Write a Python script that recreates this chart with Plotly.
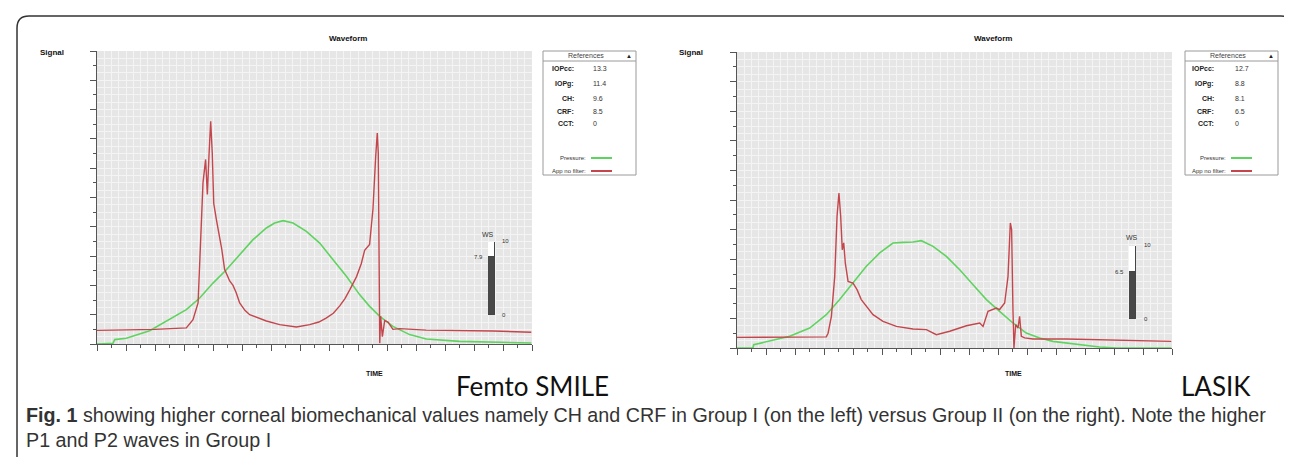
import plotly.graph_objects as go

W, H = 1292, 457
def px(x): return x / W
def py(y): return 1 - y / H

# ---------------- data ----------------
# Femto SMILE (left) waveform
smile_red_t = [0, 2, 4, 6.16, 6.62, 6.97, 7.13, 7.31, 7.49, 7.61, 7.72, 7.84, 7.95, 8.05, 8.23, 8.46, 8.6, 8.8,
               9.15, 9.38, 9.6, 9.84, 10.2, 10.53, 11.1, 11.68, 12.6, 13.2, 13.75, 14.67, 15.3, 15.8, 16.3, 16.74,
               17.1, 17.43, 17.9, 18.23, 18.46, 18.8, 19.03, 19.22, 19.33, 19.4, 19.45, 19.5, 19.56, 19.68,
               19.84, 20.07, 20.41, 20.87, 22.71, 25.0, 27.3, 29.95]
smile_red_v = [0.93, 0.95, 1.0, 1.1, 1.66, 2.8, 6.9, 11.0, 12.6, 10.2, 12.8, 15.2, 13.0, 9.6, 8.5, 7.4, 6.5, 5.1,
               4.3, 4.0, 3.5, 2.8, 2.3, 2.0, 1.8, 1.57, 1.32, 1.22, 1.16, 1.32, 1.5, 1.77, 2.1, 2.6,
               3.1, 3.7, 4.6, 5.5, 6.4, 6.8, 9.2, 12.8, 14.4, 13.0, 6.9, 0.05, 1.9, 0.5,
               1.6, 1.5, 1.0, 1.05, 0.95, 0.92, 0.89, 0.8]
smile_green_t = [0, 1.1, 1.22, 2.02, 3.63, 5.01, 6.16, 7.08, 8.0, 8.92, 9.84, 10.76, 11.68, 12.25, 12.83, 13.52,
                 14.44, 15.36, 16.28, 17.2, 18.11, 18.8, 19.5, 20.41, 21.56, 22.71, 25.0, 27.3, 29.95]
smile_green_v = [0, 0.05, 0.3, 0.39, 0.91, 1.66, 2.34, 3.14, 4.16, 5.07, 6.1, 7.12, 7.92, 8.26, 8.42, 8.26,
                 7.69, 6.89, 5.75, 4.62, 3.37, 2.57, 1.89, 1.2, 0.64, 0.34, 0.18, 0.11, 0.07]

# LASIK (right) waveform
lasik_red_t = [0, 3, 6.16, 6.28, 6.51, 6.74, 6.9, 7.03, 7.15, 7.26, 7.36, 7.47, 7.66, 8.0, 8.28, 8.57, 8.92, 9.38,
               10.07, 10.99, 12.14, 13.06, 13.75, 14.67, 15.82, 16.74, 16.97, 17.31, 17.89, 18.11, 18.46, 18.69,
               18.85, 18.94, 19.03, 19.1, 19.22, 19.38, 19.49, 19.61, 19.84, 20.41, 22.71, 27.3, 29.95]
lasik_red_v = [0.72, 0.74, 0.75, 1.0, 2.14, 4.84, 8.9, 10.47, 8.9, 6.64, 7.1, 5.74, 4.5, 4.39, 3.94, 3.27, 2.82, 2.25,
               1.8, 1.46, 1.28, 1.24, 0.9, 1.13, 1.5, 1.69, 1.46, 2.48, 2.7, 2.6, 3.04, 4.84,
               8.45, 8.0, 2.6, 0.0, 1.58, 1.35, 2.14, 0.79, 0.68, 0.61, 0.61, 0.5, 0.45]
lasik_green_t = [0, 1.1, 1.15, 2.02, 3.63, 5.01, 6.16, 7.08, 8.0, 8.92, 9.84, 10.76, 11.45, 12.14, 12.71, 13.52,
                 14.44, 15.36, 16.28, 17.2, 18.11, 19.03, 19.95, 20.87, 21.79, 22.71, 24.09, 25.0, 26.16, 29.95]
lasik_green_v = [0, 0, 0.22, 0.41, 0.79, 1.35, 2.25, 3.27, 4.39, 5.52, 6.42, 7.09, 7.14, 7.16, 7.25, 6.87,
                 6.19, 5.29, 4.28, 3.27, 2.48, 1.69, 1.01, 0.68, 0.45, 0.34, 0.16, 0.07, 0, 0]

ref_labels = ["IOPcc:", "IOPg:", "CH:", "CRF:", "CCT:"]
smile_refs = ["13.3", "11.4", "9.6", "8.5", "0"]
lasik_refs = ["12.7", "8.8", "8.1", "6.5", "0"]
ws_smile = 7.9
ws_lasik = 6.5
ws_max = 10

RED = "#c4464c"
GREEN = "#5fd35f"
TICK = "#555555"

fig = go.Figure()

# main traces
fig.add_trace(go.Scatter(x=smile_green_t, y=smile_green_v, mode="lines", line=dict(color=GREEN, width=1.6),
                         xaxis="x", yaxis="y", hoverinfo="skip"))
fig.add_trace(go.Scatter(x=smile_red_t, y=smile_red_v, mode="lines", line=dict(color=RED, width=1.4),
                         xaxis="x", yaxis="y", hoverinfo="skip"))
fig.add_trace(go.Scatter(x=lasik_green_t, y=lasik_green_v, mode="lines", line=dict(color=GREEN, width=1.6),
                         xaxis="x2", yaxis="y2", hoverinfo="skip"))
fig.add_trace(go.Scatter(x=lasik_red_t, y=lasik_red_v, mode="lines", line=dict(color=RED, width=1.4),
                         xaxis="x2", yaxis="y2", hoverinfo="skip"))
# dummy traces for tick overlays
for xa, ya in (("x5", "y5"), ("x6", "y6")):
    fig.add_trace(go.Scatter(x=[0], y=[0], mode="markers", marker=dict(opacity=0), xaxis=xa, yaxis=ya,
                             hoverinfo="skip"))

# WS gauges
for xa, ya, val in (("x3", "y3", ws_smile), ("x4", "y4", ws_lasik)):
    fig.add_trace(go.Bar(x=[0], y=[ws_max], width=1, marker=dict(color="white", line=dict(color="#444", width=1)),
                         xaxis=xa, yaxis=ya, hoverinfo="skip"))
    fig.add_trace(go.Bar(x=[0], y=[val], width=1, marker=dict(color="#484848", line=dict(color="#444", width=1)),
                         xaxis=xa, yaxis=ya, hoverinfo="skip"))

L_X = [px(89), px(524)]
L_Y = [py(336), py(43)]
R_X = [px(729), px(1164)]
R_Y = [py(340), py(44)]

def grid_axis(domain, anchor, rng):
    return dict(domain=domain, anchor=anchor, range=rng, dtick=0.5, tick0=0, showgrid=True,
                gridcolor="#f4f4f4", gridwidth=1, showticklabels=False, ticks="", zeroline=False,
                showline=False, fixedrange=True)

def tick_axis(overlay, anchor, rng, side):
    return dict(overlaying=overlay, anchor=anchor, range=rng, dtick=2, tick0=0, ticks="outside", ticklen=6,
                tickcolor=TICK, tickwidth=1, showgrid=False, showticklabels=False, zeroline=False,
                showline=True, linecolor=TICK, linewidth=1, side=side, fixedrange=True,
                minor=dict(dtick=1, tick0=0, ticks="outside", ticklen=3, tickcolor=TICK, tickwidth=1,
                           showgrid=False))

gauge_ax = dict(visible=False, fixedrange=True)

fig.update_layout(
    width=W, height=H, margin=dict(l=0, r=0, t=0, b=0),
    paper_bgcolor="white", plot_bgcolor="#e6e6e6", showlegend=False,
    barmode="overlay", bargap=0,
    xaxis=grid_axis(L_X, "y", [0, 30]),
    yaxis=grid_axis(L_Y, "x", [0, 20]),
    xaxis2=grid_axis(R_X, "y2", [0, 30]),
    yaxis2=grid_axis(R_Y, "x2", [0, 20]),
    xaxis5=tick_axis("x", "y5", [0, 30], "bottom"),
    yaxis5=tick_axis("y", "x5", [0, 20], "left"),
    xaxis6=tick_axis("x2", "y6", [0, 30], "bottom"),
    yaxis6=tick_axis("y2", "x6", [0, 20], "left"),
    xaxis3=dict(gauge_ax, domain=[px(480), px(487)], anchor="y3", range=[-0.5, 0.5]),
    yaxis3=dict(gauge_ax, domain=[py(307), py(234)], anchor="x3", range=[0, ws_max]),
    xaxis4=dict(gauge_ax, domain=[px(1121), px(1128)], anchor="y4", range=[-0.5, 0.5]),
    yaxis4=dict(gauge_ax, domain=[py(311), py(238)], anchor="x4", range=[0, ws_max]),
)

ann = []
def text(x, y, s, size=9, bold=False, color="#111", xanchor="center", font="Liberation Sans", yref="paper"):
    ann.append(dict(x=px(x), y=(py(y) if yref == "paper" else y), xref="paper", yref=yref,
                    text=(f"<b>{s}</b>" if bold else s), showarrow=False, xanchor=xanchor, yanchor="middle",
                    font=dict(family=font, size=size, color=color)))

shapes = []
def line(x0, y0, x1, y1, color, width=1):
    shapes.append(dict(type="line", xref="paper", yref="paper", x0=px(x0), y0=py(y0), x1=px(x1), y1=py(y1),
                       line=dict(color=color, width=width)))

def rect(x0, y0, x1, y1, color="#9a9a9a", fill="white"):
    shapes.append(dict(type="rect", xref="paper", yref="paper", x0=px(x0), y0=py(y0), x1=px(x1), y1=py(y1),
                       line=dict(color=color, width=1), fillcolor=fill, layer="below"))

# titles
for cx, sx, tx in ((340, 44, 366), (985, 683, 1005)):
    text(cx, 30, "Waveform", size=8, bold=True)
    text(sx, 45, "Signal", size=8, bold=True)
    text(tx, 365, "TIME", size=7, bold=True)

text(524, 378, "Femto SMILE", size=26, font="Lato", color="#111")
text(1208, 378, "LASIK", size=26, font="Lato", color="#111")

# reference boxes
for bx0, bx1, lab_x, val_x, refs in ((535, 628, 568, 583, smile_refs), (1177, 1270, 1208, 1225, lasik_refs)):
    rect(bx0, 43, bx1, 167)
    line(bx0, 53, bx1, 53, "#9a9a9a")
    text((bx0 + bx1) / 2 - 4, 48, "References", size=7, color="#444")
    text(bx1 - 7, 48, "▲", size=6, color="#222")
    rows_y = [60, 76, 90, 103, 116]
    for lab, val, yy in zip(ref_labels, refs, rows_y):
        text(lab_x, yy, lab, size=7, bold=True, color="#222", xanchor="right")
        text(val_x, yy, val, size=7, color="#333", xanchor="left")
    text(lab_x + 12, 150, "Pressure:", size=6, color="#333", xanchor="right")
    line(lab_x + 15, 150, lab_x + 36, 150, GREEN, 2)
    text(lab_x + 12, 163, "App no filter:", size=6, color="#333", xanchor="right")
    line(lab_x + 15, 163, lab_x + 36, 163, RED, 2)

# gauge labels
for (wsx, wsy, tx, tyt, vx, yax, val) in ((480, 226, 492, 233, 472, "y3", ws_smile),
                                          (1124, 229, 1134, 237, 1113, "y4", ws_lasik)):
    text(wsx, wsy, "WS", size=7, color="#333")
    text(tx, tyt, "10", size=6, color="#333", xanchor="left")
    ann.append(dict(x=px(vx + 5), y=val, xref="paper", yref=yax, text=f"{val}", showarrow=False,
                    xanchor="right", yanchor="middle", font=dict(family="Liberation Sans", size=6, color="#333")))
    ann.append(dict(x=px(tx), y=0, xref="paper", yref=yax, text="0", showarrow=False,
                    xanchor="left", yanchor="middle", font=dict(family="Liberation Sans", size=6, color="#333")))

# caption
text(16, 407, "<b>Fig. 1</b> showing higher corneal biomechanical values namely CH and CRF in Group I (on the left) "
     "versus Group II (on the right). Note the higher", size=19.7, font="Liberation Sans", color="#333",
     xanchor="left")
text(16, 432, "P1 and P2 waves in Group I", size=19.7, font="Liberation Sans", color="#333", xanchor="left")

# rounded frame
def P(x, y): return f"{px(x):.5f},{py(y):.5f}"
path = (f"M {P(9, 457)} L {P(9, 20)} Q {P(9, 8)} {P(21, 8)} L {P(1273, 8)} Q {P(1285, 8)} {P(1285, 20)} "
        f"L {P(1285, 26)}")
shapes.append(dict(type="path", xref="paper", yref="paper", path=path, line=dict(color="#333", width=1.5)))

fig.update_layout(annotations=ann, shapes=shapes)
fig.write_html("out.html")
